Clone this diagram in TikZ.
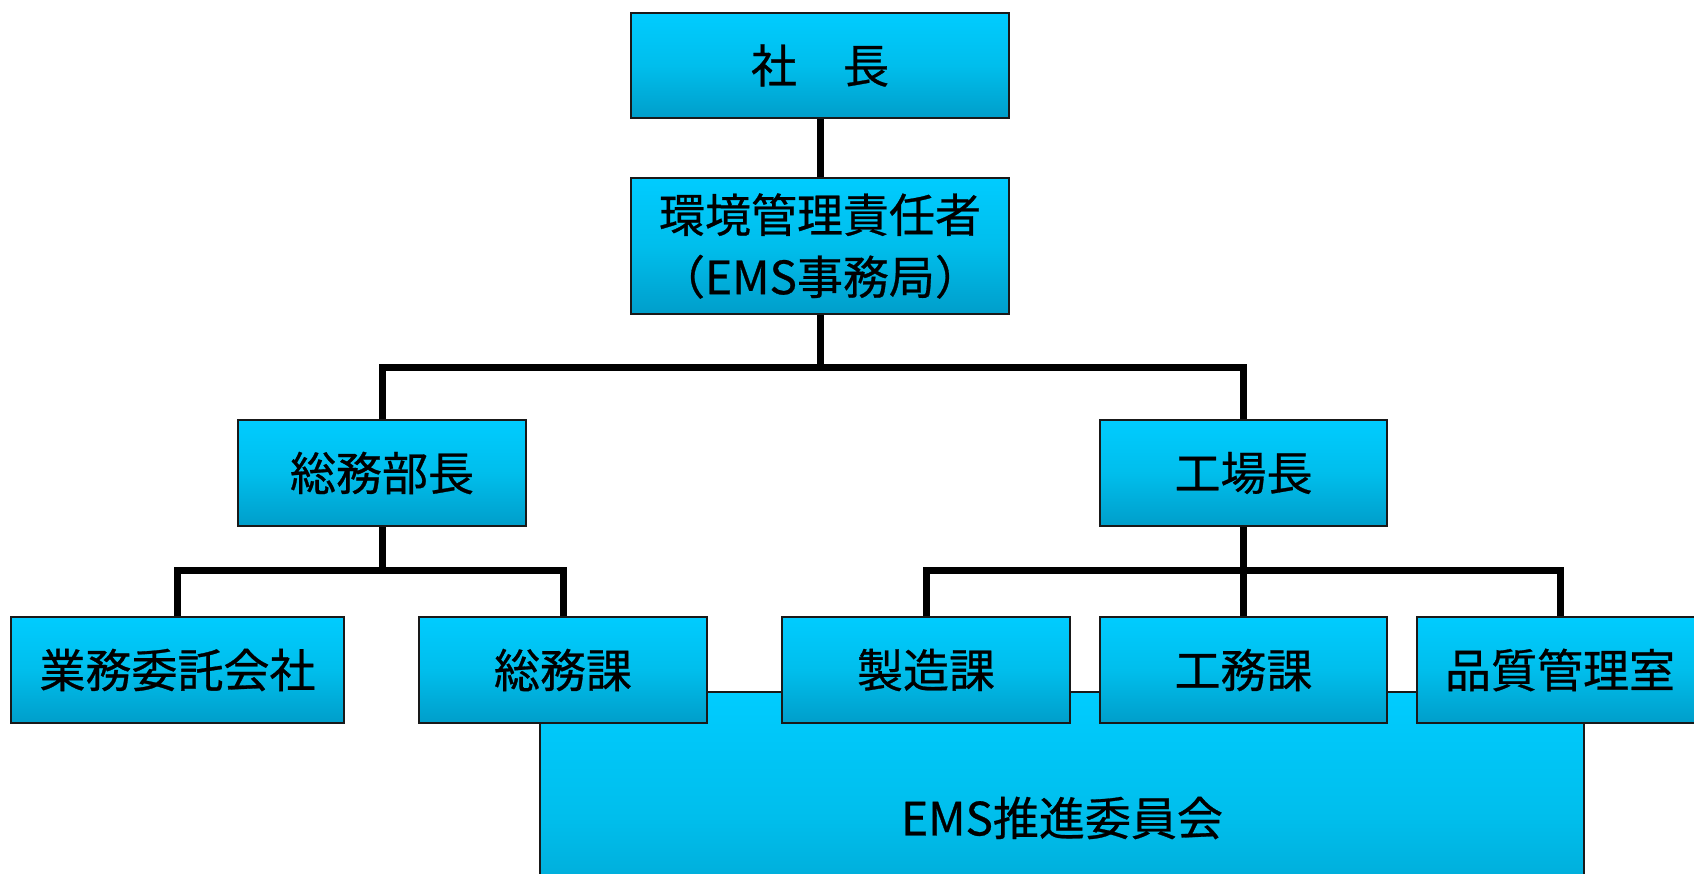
\documentclass[tikz,border=0pt]{standalone}
\usepackage{fontspec}
\setmainfont[FakeBold=0.6]{Noto Sans CJK JP}
\definecolor{topc}{RGB}{0,204,255}
\definecolor{midc}{RGB}{0,190,236}
\definecolor{botc}{RGB}{0,158,202}
\definecolor{edge}{RGB}{25,25,25}
\tikzset{
  box/.style={draw=edge, line width=2pt, top color=topc, bottom color=botc, middle color=midc,
    minimum height=106pt, inner sep=0pt, align=center,
    font=\fontsize{46}{62}\selectfont},
  conn/.style={line width=7pt, draw=black, line join=miter}
}
\begin{document}
\begin{tikzpicture}[x=1pt,y=-1pt]
\useasboundingbox (0,0) rectangle (1694,873);
\clip (0,0) rectangle (1694,873);
\fill[white] (0,0) rectangle (1694,873);
% big committee box (behind)
\node[box, line width=1.5pt, minimum width=1044pt, minimum height=252pt] (ems) at (1062,818) {EMS推進委員会};
% boxes
\node[box, minimum width=378pt, minimum height=105pt] (pres) at (820,65.5) {社　長};
\node[box, minimum width=378pt, minimum height=136pt] (env) at (820,246) {環境管理責任者\\（EMS事務局）};
\node[box, minimum width=288pt] (soumu) at (382,473) {総務部長};
\node[box, minimum width=287pt] (kojo) at (1243.5,473) {工場長};
\node[box, minimum width=333pt] (itaku) at (177.5,670) {業務委託会社};
\node[box, minimum width=288pt] (soumuka) at (563,670) {総務課};
\node[box, minimum width=288pt] (seizo) at (926,670) {製造課};
\node[box, minimum width=287pt] (koumu) at (1243.5,670) {工務課};
\node[box, minimum width=286pt] (hin) at (1560,670) {品質管理室};
% bus coordinates
\coordinate (b1) at (0,367);
\coordinate (b2) at (0,570);
% connectors
\draw[conn] (pres.south) -- (env.north);
\draw[conn] (env.south) -- (env.south |- b1);
\draw[conn] (soumu.north) |- (kojo.north |- b1) -- (kojo.north);
\draw[conn] (soumu.south) -- (soumu.south |- b2);
\draw[conn] (itaku.north) |- (soumuka.north |- b2) -- (soumuka.north);
\draw[conn] (kojo.south) -- (koumu.north);
\draw[conn] (seizo.north) |- (hin.north |- b2) -- (hin.north);
\end{tikzpicture}
\end{document}
